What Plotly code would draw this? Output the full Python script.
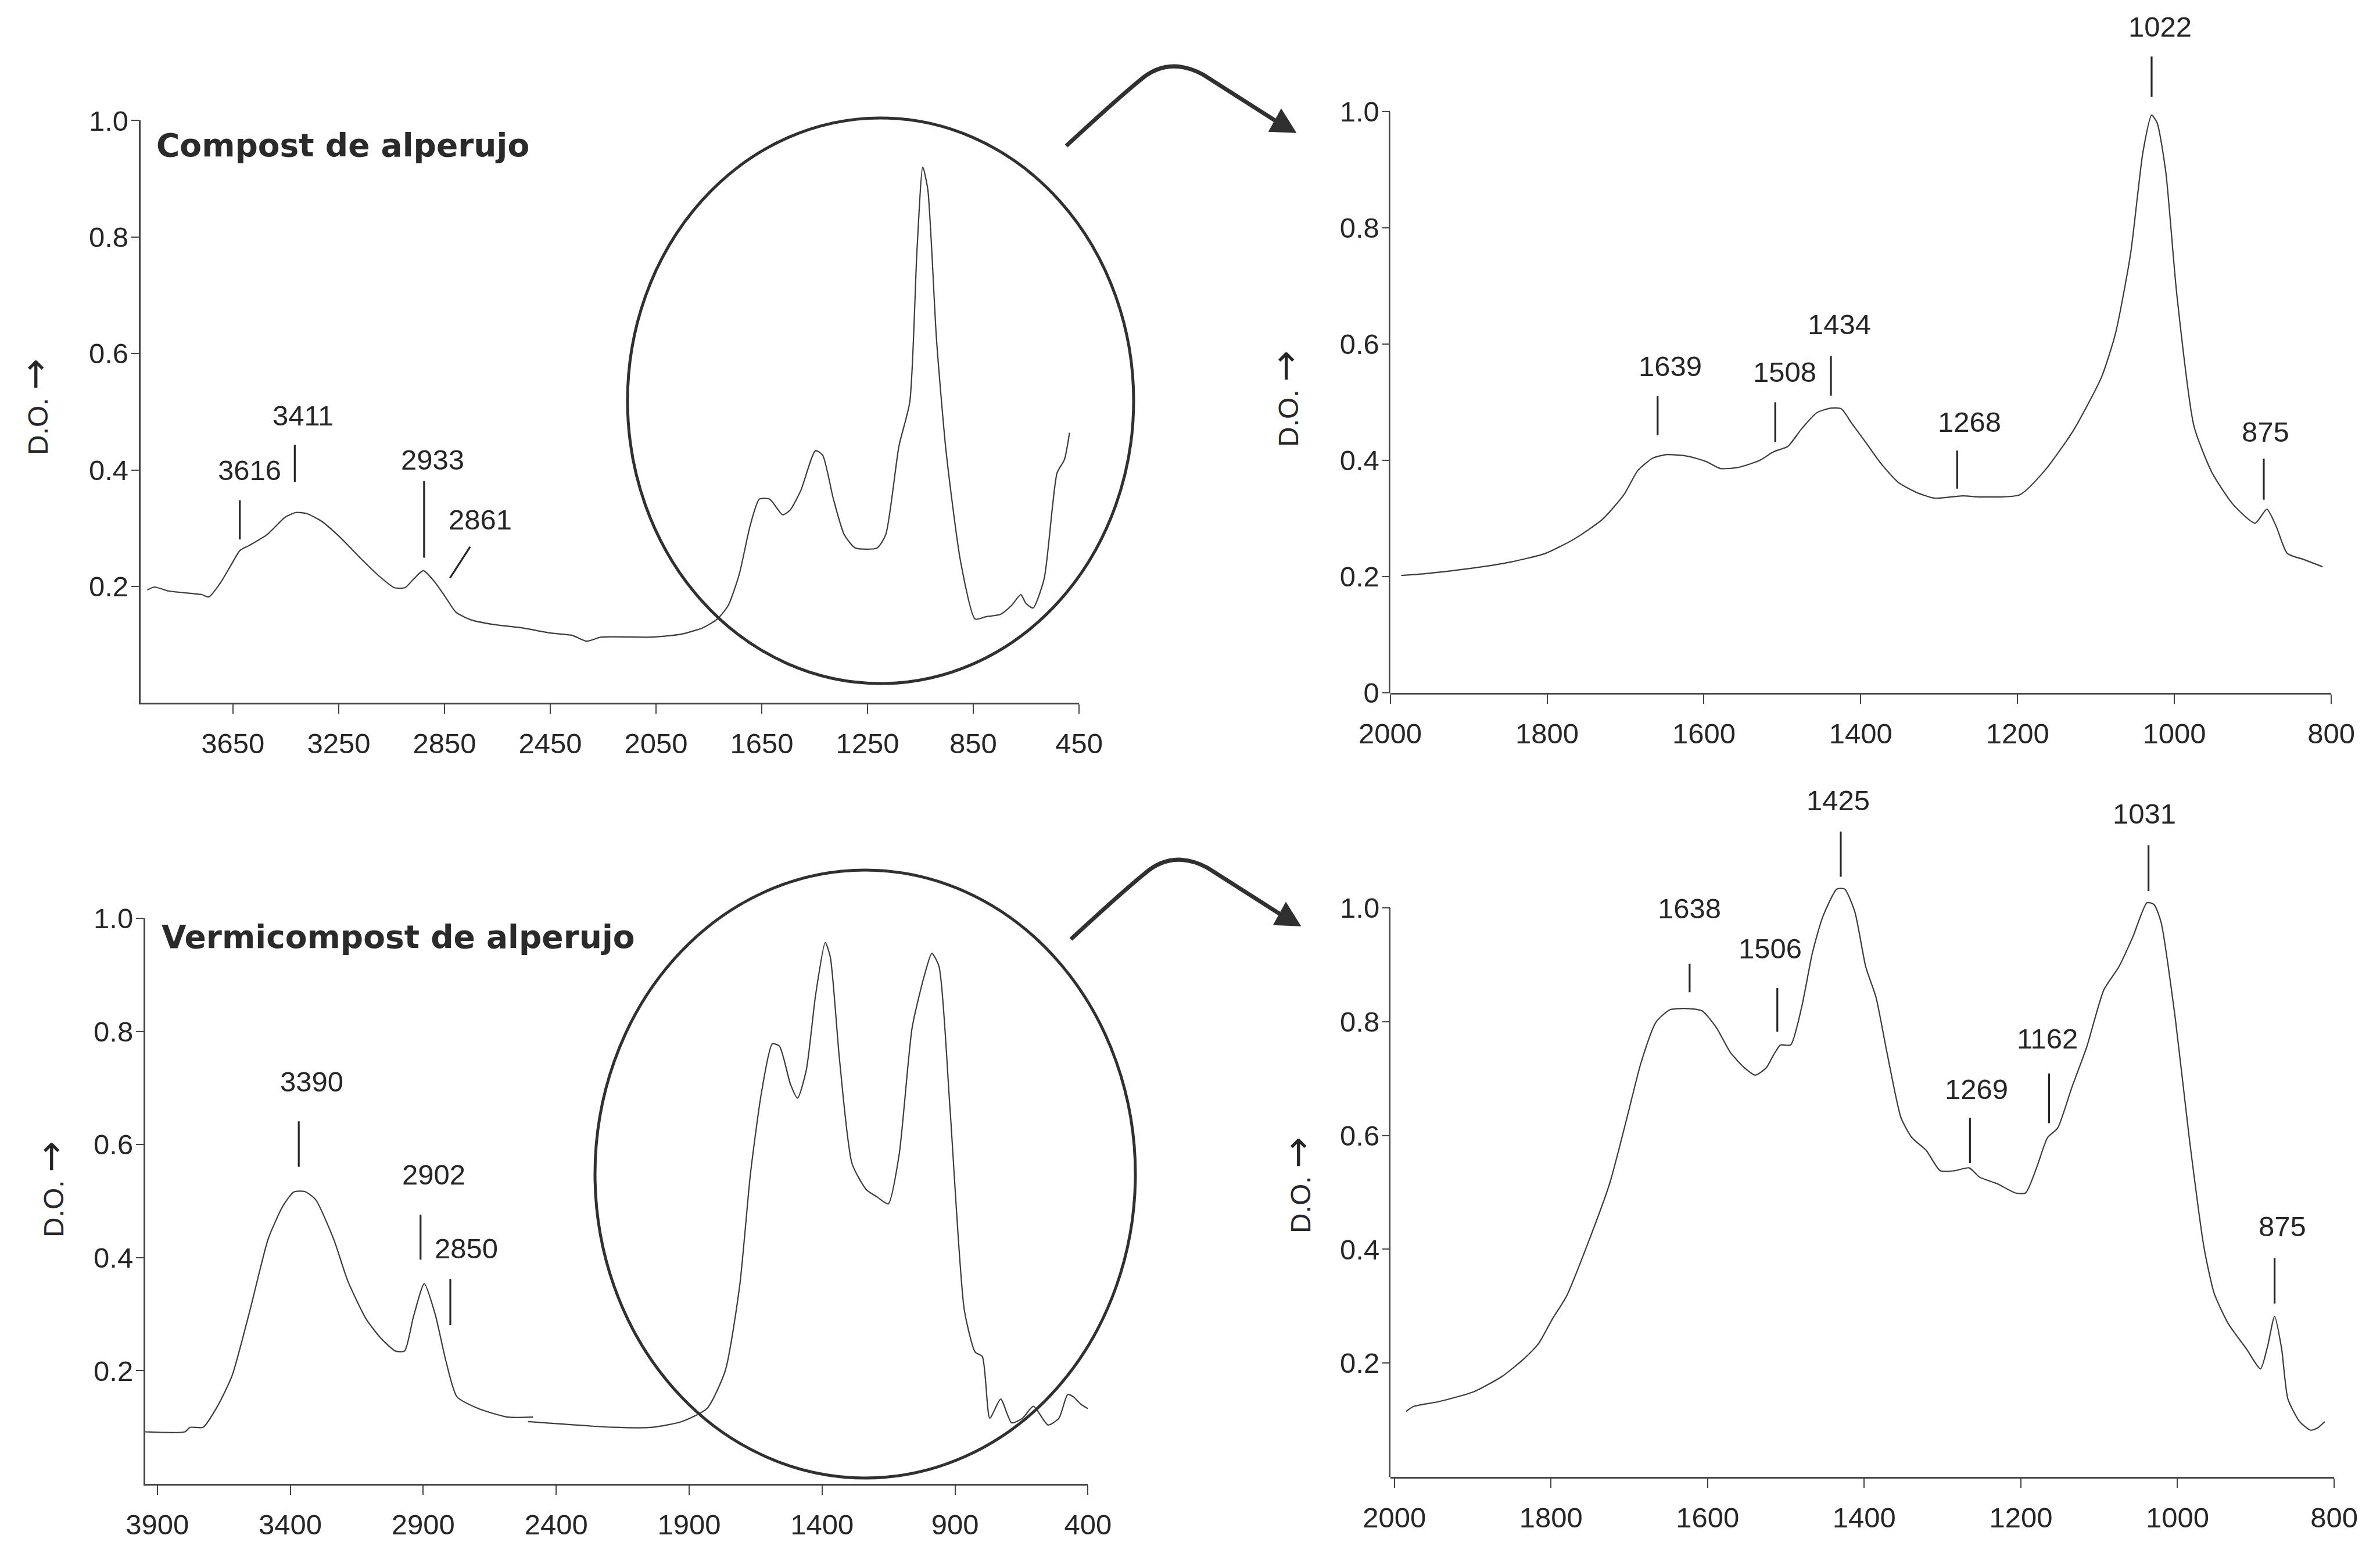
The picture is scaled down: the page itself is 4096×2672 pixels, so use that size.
import plotly.graph_objects as go

W, H = 4096, 2672
FONT = "Liberation Sans, Arial, sans-serif"
TITLE_FONT = "DejaVu Sans, Verdana, sans-serif"
TXT = "#262626"
INK = "#3c3c3c"
AXC = "#444444"

# ---------------- data ----------------
# Compost de alperujo, full spectrum (cm-1, D.O.)
tl_x = [3974, 3947, 3892, 3768, 3741, 3699, 3658, 3623, 3590, 3521, 3452, 3411, 3370, 3315, 3246,
        3164, 3095, 3040, 2999, 2966, 2930, 2889, 2848, 2807, 2752, 2669, 2559, 2449, 2367, 2312,
        2257, 2065, 1955, 1873, 1818, 1777, 1735, 1694, 1659, 1620, 1571, 1543, 1502, 1447, 1420,
        1379, 1338, 1296, 1214, 1181, 1131, 1090, 1063, 1041, 1022, 989, 953, 898, 843, 802,
        747, 706, 670, 651, 624, 582, 533, 505, 486]
tl_y = [0.194, 0.199, 0.192, 0.186, 0.182, 0.205, 0.236, 0.262, 0.27, 0.289, 0.319, 0.327, 0.325, 0.312, 0.285,
        0.247, 0.217, 0.198, 0.198, 0.213, 0.227, 0.209, 0.183, 0.156, 0.143, 0.135, 0.129, 0.12, 0.116, 0.106,
        0.113, 0.113, 0.118, 0.129, 0.144, 0.167, 0.221, 0.304, 0.35, 0.35, 0.323, 0.331, 0.365, 0.433, 0.426,
        0.35, 0.289, 0.266, 0.266, 0.289, 0.441, 0.517, 0.776, 0.92, 0.882, 0.624, 0.433, 0.243, 0.144, 0.148,
        0.152, 0.167, 0.186, 0.171, 0.163, 0.213, 0.395, 0.418, 0.464]

# Compost de alperujo, 2000-800 zoom
tr_x = [1986, 1956, 1893, 1847, 1802, 1765, 1729, 1702, 1684, 1665, 1647, 1620, 1597, 1579, 1556,
        1529, 1511, 1493, 1475, 1456, 1438, 1425, 1411, 1393, 1375, 1352, 1329, 1306, 1270, 1247,
        1197, 1165, 1129, 1093, 1075, 1056, 1040, 1029, 1022, 1011, 997, 975, 952, 925, 897,
        882, 870, 856, 834, 811]
tr_y = [0.202, 0.205, 0.215, 0.225, 0.24, 0.265, 0.299, 0.341, 0.383, 0.404, 0.41, 0.407, 0.398, 0.386, 0.388,
        0.4, 0.415, 0.424, 0.455, 0.482, 0.49, 0.489, 0.463, 0.43, 0.396, 0.362, 0.345, 0.335, 0.339, 0.337,
        0.341, 0.383, 0.451, 0.543, 0.619, 0.754, 0.931, 0.994, 0.981, 0.897, 0.687, 0.459, 0.379, 0.324, 0.292,
        0.316, 0.286, 0.24, 0.229, 0.217]

# Vermicompost de alperujo, full spectrum (two recorded segments)
bl_x1 = [3946, 3796, 3777, 3728, 3674, 3619, 3551, 3483, 3428, 3387, 3346, 3305, 3237, 3183, 3114,
         3060, 3005, 2970, 2937, 2896, 2855, 2814, 2773, 2692, 2583, 2487]
bl_y1 = [0.092, 0.092, 0.1, 0.1, 0.137, 0.191, 0.308, 0.433, 0.491, 0.516, 0.517, 0.503, 0.433, 0.358, 0.291,
         0.258, 0.235, 0.235, 0.295, 0.354, 0.3, 0.216, 0.154, 0.133, 0.118, 0.118]
bl_x2 = [2506, 2187, 2037, 1928, 1833, 1764, 1710, 1669, 1628, 1587, 1560, 1519, 1492, 1459, 1424,
         1388, 1369, 1334, 1287, 1233, 1192, 1151, 1110, 1061, 1015, 987, 960, 919, 865, 824,
         797, 769, 728, 687, 646, 605, 550, 509, 476, 455, 427, 400]
bl_y2 = [0.11, 0.1, 0.1, 0.11, 0.133, 0.2, 0.349, 0.549, 0.691, 0.778, 0.774, 0.707, 0.682, 0.732, 0.865,
         0.957, 0.932, 0.749, 0.566, 0.52, 0.507, 0.495, 0.582, 0.807, 0.899, 0.938, 0.915, 0.666, 0.308, 0.233,
         0.225, 0.116, 0.15, 0.108, 0.116, 0.137, 0.104, 0.116, 0.158, 0.154, 0.141, 0.133]

# Vermicompost de alperujo, 2000-800 zoom
br_x = [1985, 1975, 1944, 1898, 1862, 1835, 1816, 1798, 1780, 1753, 1725, 1703, 1685, 1666, 1648,
        1625, 1607, 1589, 1571, 1553, 1539, 1525, 1516, 1507, 1494, 1480, 1466, 1453, 1435, 1425,
        1412, 1398, 1385, 1371, 1353, 1339, 1321, 1303, 1285, 1266, 1253, 1230, 1207, 1194, 1180,
        1166, 1153, 1135, 1116, 1094, 1075, 1057, 1039, 1030, 1021, 1003, 985, 966, 953, 935,
        912, 894, 885, 876, 867, 859, 844, 830, 821, 812]
br_y = [0.115, 0.124, 0.132, 0.15, 0.177, 0.207, 0.234, 0.278, 0.318, 0.41, 0.516, 0.631, 0.728, 0.799, 0.821,
        0.823, 0.819, 0.79, 0.746, 0.719, 0.706, 0.719, 0.741, 0.759, 0.759, 0.825, 0.922, 0.984, 1.033, 1.033,
        0.993, 0.896, 0.843, 0.746, 0.631, 0.596, 0.574, 0.538, 0.538, 0.543, 0.527, 0.515, 0.499, 0.499, 0.543,
        0.596, 0.613, 0.684, 0.755, 0.856, 0.896, 0.949, 1.009, 1.006, 0.975, 0.808, 0.596, 0.402, 0.322, 0.269,
        0.225, 0.19, 0.229, 0.282, 0.225, 0.137, 0.097, 0.082, 0.086, 0.097]

# tick labels
tl_ticks = [3650, 3250, 2850, 2450, 2050, 1650, 1250, 850, 450]
bl_ticks = [3900, 3400, 2900, 2400, 1900, 1400, 900, 400]
zoom_ticks = [2000, 1800, 1600, 1400, 1200, 1000, 800]
y_ticks = [0.2, 0.4, 0.6, 0.8, 1.0]
y_ticks0 = [0, 0.2, 0.4, 0.6, 0.8, 1.0]

# band labels: (text, x, y) and marker lines: (x, y_low, y_high)
tl_labels = [("3616", 3588, 0.40), ("3411", 3384, 0.493), ("2933", 2894, 0.418), ("2861", 2714, 0.315)]
tl_marks = [(3624, 0.279, 0.348), (3416, 0.378, 0.443), (2927, 0.248, 0.381)]
tl_slant = (2831, 0.213, 2753, 0.268)
tr_labels = [("1022", 1018, 1.146), ("1639", 1643, 0.562), ("1508", 1497, 0.552), ("1434", 1427, 0.634),
             ("1268", 1261, 0.466), ("875", 884, 0.449)]
tr_marks = [(1029, 1.024, 1.095), (1659, 0.442, 0.511), (1509, 0.43, 0.5), (1438, 0.51, 0.58),
            (1277, 0.35, 0.417), (886, 0.331, 0.403)]
bl_labels = [("3390", 3319, 0.711), ("2902", 2861, 0.547), ("2850", 2738, 0.416)]
bl_marks = [(3368, 0.559, 0.641), (2910, 0.395, 0.476), (2798, 0.279, 0.362)]
br_labels = [("1425", 1433, 1.189), ("1031", 1042, 1.165), ("1638", 1623, 0.999), ("1506", 1520, 0.929),
             ("1269", 1257, 0.681), ("1162", 1166, 0.77), ("875", 866, 0.44)]
br_marks = [(1430, 1.053, 1.134), (1037, 1.028, 1.11), (1623, 0.85, 0.902), (1511, 0.781, 0.859),
            (1265, 0.55, 0.631), (1164, 0.62, 0.709), (876, 0.303, 0.384)]

# ---------------- layout helpers ----------------
def fx(v):
    return v / W


def fy(v):
    return 1 - v / H


fig = go.Figure()

line_style = dict(color=INK, width=2.2, shape="spline", smoothing=0.6)
fig.add_trace(go.Scatter(x=tl_x, y=tl_y, mode="lines", line=line_style, xaxis="x", yaxis="y", hoverinfo="skip"))
fig.add_trace(go.Scatter(x=tr_x, y=tr_y, mode="lines", line=line_style, xaxis="x2", yaxis="y2", hoverinfo="skip"))
fig.add_trace(go.Scatter(x=bl_x1, y=bl_y1, mode="lines", line=line_style, xaxis="x3", yaxis="y3", hoverinfo="skip"))
fig.add_trace(go.Scatter(x=bl_x2, y=bl_y2, mode="lines", line=line_style, xaxis="x3", yaxis="y3", hoverinfo="skip"))
fig.add_trace(go.Scatter(x=br_x, y=br_y, mode="lines", line=line_style, xaxis="x4", yaxis="y4", hoverinfo="skip"))

tickfont = dict(family=FONT, size=49, color=TXT)


def xaxis(dom, rng, vals, anchor):
    return dict(domain=[fx(dom[0]), fx(dom[1])], range=rng, autorange=False, anchor=anchor,
                automargin=False,
                tickmode="array", tickvals=vals, ticktext=[str(v) for v in vals],
                ticks="outside", ticklen=16, tickwidth=2, tickcolor=AXC,
                showline=True, linecolor=AXC, linewidth=2.5, showgrid=False, zeroline=False,
                tickfont=tickfont, ticklabelstandoff=9)


def yaxis(dom, rng, vals, anchor, showline=True):
    return dict(domain=[fy(dom[1]), fy(dom[0])], range=rng, autorange=False, anchor=anchor,
                automargin=False,
                tickmode="array", tickvals=vals,
                ticktext=["0" if v == 0 else f"{v:.1f}" for v in vals],
                ticks="outside", ticklen=13, tickwidth=2, tickcolor=AXC,
                showline=showline, linecolor=AXC, linewidth=2.5, showgrid=False, zeroline=False,
                tickfont=tickfont, ticklabelstandoff=-5)


# plot areas in output pixels: (left, right), (top of range, bottom)
TL = ((241.6, 1857.0), (207.4, 1209.4))
TR_TOP = 1.19
TR = ((2392.6, 4012.0), (1192.1 - TR_TOP * 999.9, 1192.1))
BL = ((249.7, 1872.3), (1580.0, 2553.0))
BR_TOP = 1.22
BR = ((2393.0, 4017.0), (2541.0 - BR_TOP * 979.0, 2541.0))

fig.update_layout(
    width=W, height=H, margin=dict(l=0, r=0, t=0, b=0, autoexpand=False),
    paper_bgcolor="white", plot_bgcolor="white", showlegend=False,
    xaxis=xaxis(TL[0], [4000, 450], tl_ticks, "y"),
    yaxis=yaxis(TL[1], [0, 1.0], y_ticks, "x"),
    xaxis2=xaxis(TR[0], [2000, 800], zoom_ticks, "y2"),
    yaxis2=yaxis(TR[1], [0, TR_TOP], y_ticks0, "x2", showline=False),
    xaxis3=xaxis(BL[0], [3946, 400], bl_ticks, "y3"),
    yaxis3=yaxis(BL[1], [0, 1.0], y_ticks, "x3"),
    xaxis4=xaxis(BR[0], [2005, 800], zoom_ticks, "y4"),
    yaxis4=yaxis(BR[1], [0, BR_TOP], y_ticks, "x4", showline=False),
)

# y-axis lines of the zoomed panels stop at 1.0 (labels and curve go above)
for yr, dom in (("y2", TR), ("y4", BR)):
    xl = fx(dom[0][0]) - 0.0003
    fig.add_shape(type="line", xref="paper", yref=yr, x0=xl, x1=xl, y0=0, y1=1.0,
                  line=dict(color=AXC, width=2.5))

annfont = dict(family=FONT, size=49, color=TXT)


def panel_notes(idx, labels, marks):
    xr = "x" if idx == 1 else f"x{idx}"
    yr = "y" if idx == 1 else f"y{idx}"
    for t, x, y in labels:
        fig.add_annotation(text=t, x=x, y=y, xref=xr, yref=yr, showarrow=False,
                           xanchor="center", yanchor="middle", font=annfont)
    for x, y0, y1 in marks:
        fig.add_annotation(text="", x=x, y=y1, ax=x, ay=y0, xref=xr, yref=yr, axref=xr, ayref=yr,
                           showarrow=True, arrowhead=0, arrowwidth=3.2, arrowcolor=TXT)


panel_notes(1, tl_labels, tl_marks)
panel_notes(2, tr_labels, tr_marks)
panel_notes(3, bl_labels, bl_marks)
panel_notes(4, br_labels, br_marks)
fig.add_annotation(text="", x=tl_slant[2], y=tl_slant[3], ax=tl_slant[0], ay=tl_slant[1],
                   xref="x", yref="y", axref="x", ayref="y",
                   showarrow=True, arrowhead=0, arrowwidth=3.2, arrowcolor=TXT)

# panel titles
titlefont = dict(family=TITLE_FONT, size=55, color="#2a2a2a", weight="bold")
fig.add_annotation(text="Compost de alperujo", x=fx(267), y=fy(250), xref="paper", yref="paper",
                   xanchor="left", yanchor="middle", showarrow=False, font=titlefont)
fig.add_annotation(text="Vermicompost de alperujo", x=fx(276), y=fy(1612), xref="paper", yref="paper",
                   xanchor="left", yanchor="middle", showarrow=False, font=titlefont)

# y-axis titles
for (xo, yo) in [(60, 700), (2212, 686), (87, 2046), (2233, 2039)]:
    fig.add_annotation(text="D.O. <span style='font-family:DejaVu Sans;font-size:64px'>\u2192</span>",
                       x=fx(xo), y=fy(yo), xref="paper", yref="paper",
                       textangle=-90, xanchor="center", yanchor="middle", showarrow=False,
                       font=dict(family=FONT, size=48, color=TXT))

# circles around the fingerprint region
ELL = "#303030"
fig.add_shape(type="circle", xref="paper", yref="paper", x0=fx(1080), x1=fx(1951), y0=fy(1176), y1=fy(203),
              line=dict(color=ELL, width=5))
fig.add_shape(type="circle", xref="paper", yref="paper", x0=fx(1024), x1=fx(1954), y0=fy(2543), y1=fy(1497),
              line=dict(color=ELL, width=5))


# curved arrows linking to the zoomed panels
def curved_arrow(dx, dy):
    def p(x, y):
        return f"{fx(x + dx):.5f},{fy(y + dy):.5f}"
    shaft = (f"M {p(1835, 251)} Q {p(1925, 168)} {p(1962, 138)} Q {p(2010, 96)} {p(2070, 128)} "
             f"L {p(2197, 209)}")
    fig.add_shape(type="path", xref="paper", yref="paper", path=shaft,
                  line=dict(color=ELL, width=7))
    head = f"M {p(2230, 228)} L {p(2184, 226)} L {p(2205, 188)} Z"
    fig.add_shape(type="path", xref="paper", yref="paper", path=head,
                  line=dict(color=ELL, width=1.5), fillcolor=ELL)


curved_arrow(0, 0)
curved_arrow(8, 1365)

fig.write_html("out.html")
